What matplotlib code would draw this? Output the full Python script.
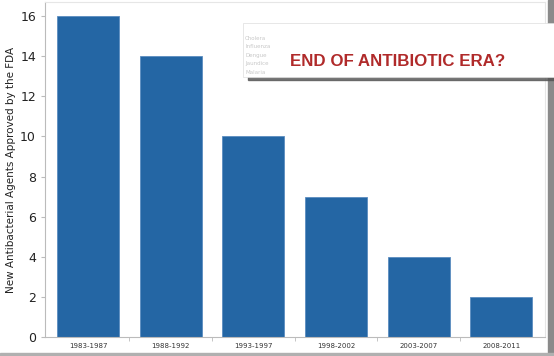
import matplotlib.pyplot as plt
from matplotlib.patches import Rectangle

# Data
periods = ["1983-1987", "1988-1992", "1993-1997", "1998-2002", "2003-2007", "2008-2011"]
agents = [16, 14, 10, 7, 4, 2]
diseases = ["Cholera", "Influenza", "Dengue", "Jaundice", "Malaria"]

W, H = 554, 356
fig = plt.figure(figsize=(W / 100, H / 100), dpi=100)
ax = fig.add_axes([45 / W, 19 / H, 500 / W, 335 / H])

x = list(range(len(periods)))
ax.bar(x, agents, width=0.75, color="#2466a4", edgecolor="#5b8cc0", linewidth=0.6, zorder=2)

ax.set_xlim(-0.52, 5.53)
ax.set_ylim(0, 16.7)
ax.set_xticks(x)
ax.set_xticklabels(periods, fontsize=5, color="#333333")
ax.set_xticks([i + 0.5 for i in x[:-1]], minor=True)
ax.tick_params(axis="x", which="major", length=0, pad=4)
ax.tick_params(axis="x", which="minor", length=3, color="#bbbbbb")
ax.set_yticks(range(0, 17, 2))
ax.tick_params(axis="y", labelsize=9, length=3, color="#bbbbbb", labelcolor="#222222")
ax.set_ylabel("New Antibacterial Agents Approved by the FDA", fontsize=7.5, color="#222222", labelpad=3)

for side in ["left", "bottom"]:
    ax.spines[side].set_color("#bbbbbb")
for side in ["top", "right"]:
    ax.spines[side].set_color("#e6e6e6")

# overlaid clipping: "End of antibiotic era?"
fig.patches.append(Rectangle((248 / W, (H - 80) / H), 306 / W, 5 / H, transform=fig.transFigure,
                             color="#555555", alpha=0.8, zorder=5))
fig.patches.append(Rectangle((243 / W, (H - 77) / H), 311 / W, 54 / H, transform=fig.transFigure,
                             facecolor="white", edgecolor="#dddddd", linewidth=0.5, zorder=6))
for i, d in enumerate(diseases):
    fig.text(245 / W, (H - 38 - i * 8.5) / H, d, fontsize=4, color="#c8c8c8", zorder=7, va="center")
fig.text(290 / W, (H - 61) / H, "END OF ANTIBIOTIC ERA?", fontsize=12.2, fontweight="bold",
         family=["Liberation Sans", "DejaVu Sans"], color="#b02a2a", va="center", zorder=7)

# page edges from the scan
fig.patches.append(Rectangle((548 / W, 0), 6 / W, 1, transform=fig.transFigure, color="#8a8a8a", zorder=4))
fig.patches.append(Rectangle((0, 0), 1, 3 / H, transform=fig.transFigure, color="#b0b0b0", zorder=4))

fig.savefig("out.png", dpi=100)
